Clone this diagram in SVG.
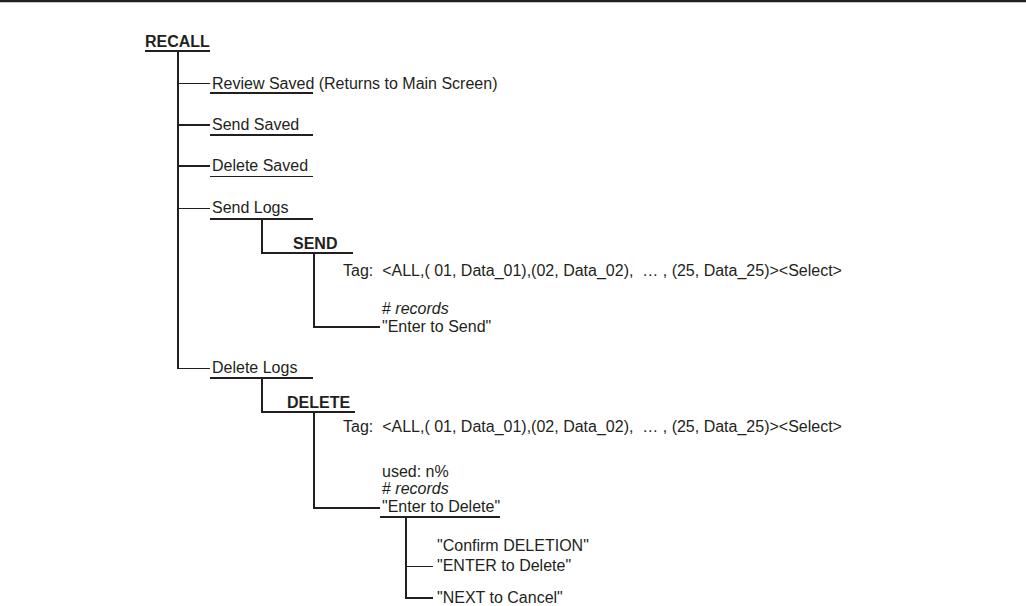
<svg xmlns="http://www.w3.org/2000/svg" width="1026" height="606" viewBox="0 0 1026 606">
<style>
text{font-family:"Liberation Sans",Arial,sans-serif;font-size:16px;fill:#231f20}
.b{font-weight:bold}
.i{font-style:italic}
.p{white-space:pre}
.k{stroke:#231f20;stroke-width:2;fill:none}
.t{stroke:#231f20;stroke-width:1;fill:none}
</style>
<rect x="0" y="0" width="1026" height="606" fill="#ffffff"/>
<line x1="0" y1="1" x2="1026" y2="1" stroke="#231f20" stroke-width="2.5"/>
<g id="connectors">
<line class="k" x1="178" y1="51" x2="178" y2="369"/>
<line class="t" x1="178" y1="83.5" x2="210" y2="83.5"/>
<line class="k" x1="178" y1="125" x2="210" y2="125"/>
<line class="k" x1="178" y1="166" x2="210" y2="166"/>
<line class="t" x1="178" y1="208.5" x2="210" y2="208.5"/>
<line class="t" x1="177" y1="368.5" x2="210" y2="368.5"/>
<line class="k" x1="262" y1="219" x2="262" y2="253"/>
<line class="k" x1="314" y1="253" x2="314" y2="328"/>
<line class="k" x1="313" y1="327" x2="380" y2="327"/>
<line class="k" x1="262" y1="378" x2="262" y2="412"/>
<line class="k" x1="314" y1="412" x2="314" y2="509"/>
<line class="k" x1="313" y1="508" x2="380" y2="508"/>
<line class="k" x1="406" y1="517" x2="406" y2="599"/>
<line class="t" x1="406" y1="566.5" x2="433" y2="566.5"/>
<line class="k" x1="405" y1="598" x2="433" y2="598"/>
</g>
<g id="recall">
<text class="b" x="145" y="47">RECALL</text>
<line class="k" x1="145" y1="51" x2="210" y2="51"/>
</g>
<g id="review-saved">
<text x="212" y="89">Review Saved (Returns to Main Screen)</text>
<line class="k" x1="210" y1="93" x2="313" y2="93"/>
</g>
<g id="send-saved">
<text x="212" y="130">Send Saved</text>
<line class="k" x1="210" y1="135" x2="313" y2="135"/>
</g>
<g id="delete-saved">
<text x="212" y="171">Delete Saved</text>
<line class="t" x1="210" y1="176.5" x2="313" y2="176.5"/>
</g>
<g id="send-logs">
<text x="212" y="213">Send Logs</text>
<line class="k" x1="210" y1="219" x2="313" y2="219"/>
</g>
<g id="send">
<text class="b" x="293" y="249">SEND</text>
<line class="k" x1="261" y1="253" x2="353" y2="253"/>
</g>
<g id="send-tag">
<text class="p" x="343" y="276">Tag:  &lt;ALL,( 01, Data_01),(02, Data_02),  … , (25, Data_25)&gt;&lt;Select&gt;</text>
</g>
<g id="send-records">
<text x="382" y="314"># <tspan class="i">records</tspan></text>
<text x="382" y="332">"Enter to Send"</text>
</g>
<g id="delete-logs">
<text x="212" y="373">Delete Logs</text>
<line class="k" x1="210" y1="378" x2="313" y2="378"/>
</g>
<g id="delete">
<text class="b" x="287" y="408">DELETE</text>
<line class="k" x1="261" y1="412" x2="355" y2="412"/>
</g>
<g id="delete-tag">
<text class="p" x="343" y="432">Tag:  &lt;ALL,( 01, Data_01),(02, Data_02),  … , (25, Data_25)&gt;&lt;Select&gt;</text>
</g>
<g id="delete-records">
<text x="382" y="477">used: n%</text>
<text x="382" y="494"># <tspan class="i">records</tspan></text>
<text x="382" y="512">"Enter to Delete"</text>
<line class="k" x1="380" y1="517" x2="500" y2="517"/>
</g>
<g id="confirm">
<text x="437" y="551">"Confirm DELETION"</text>
<text x="437" y="571">"ENTER to Delete"</text>
<text x="437" y="603">"NEXT to Cancel"</text>
</g>
</svg>
